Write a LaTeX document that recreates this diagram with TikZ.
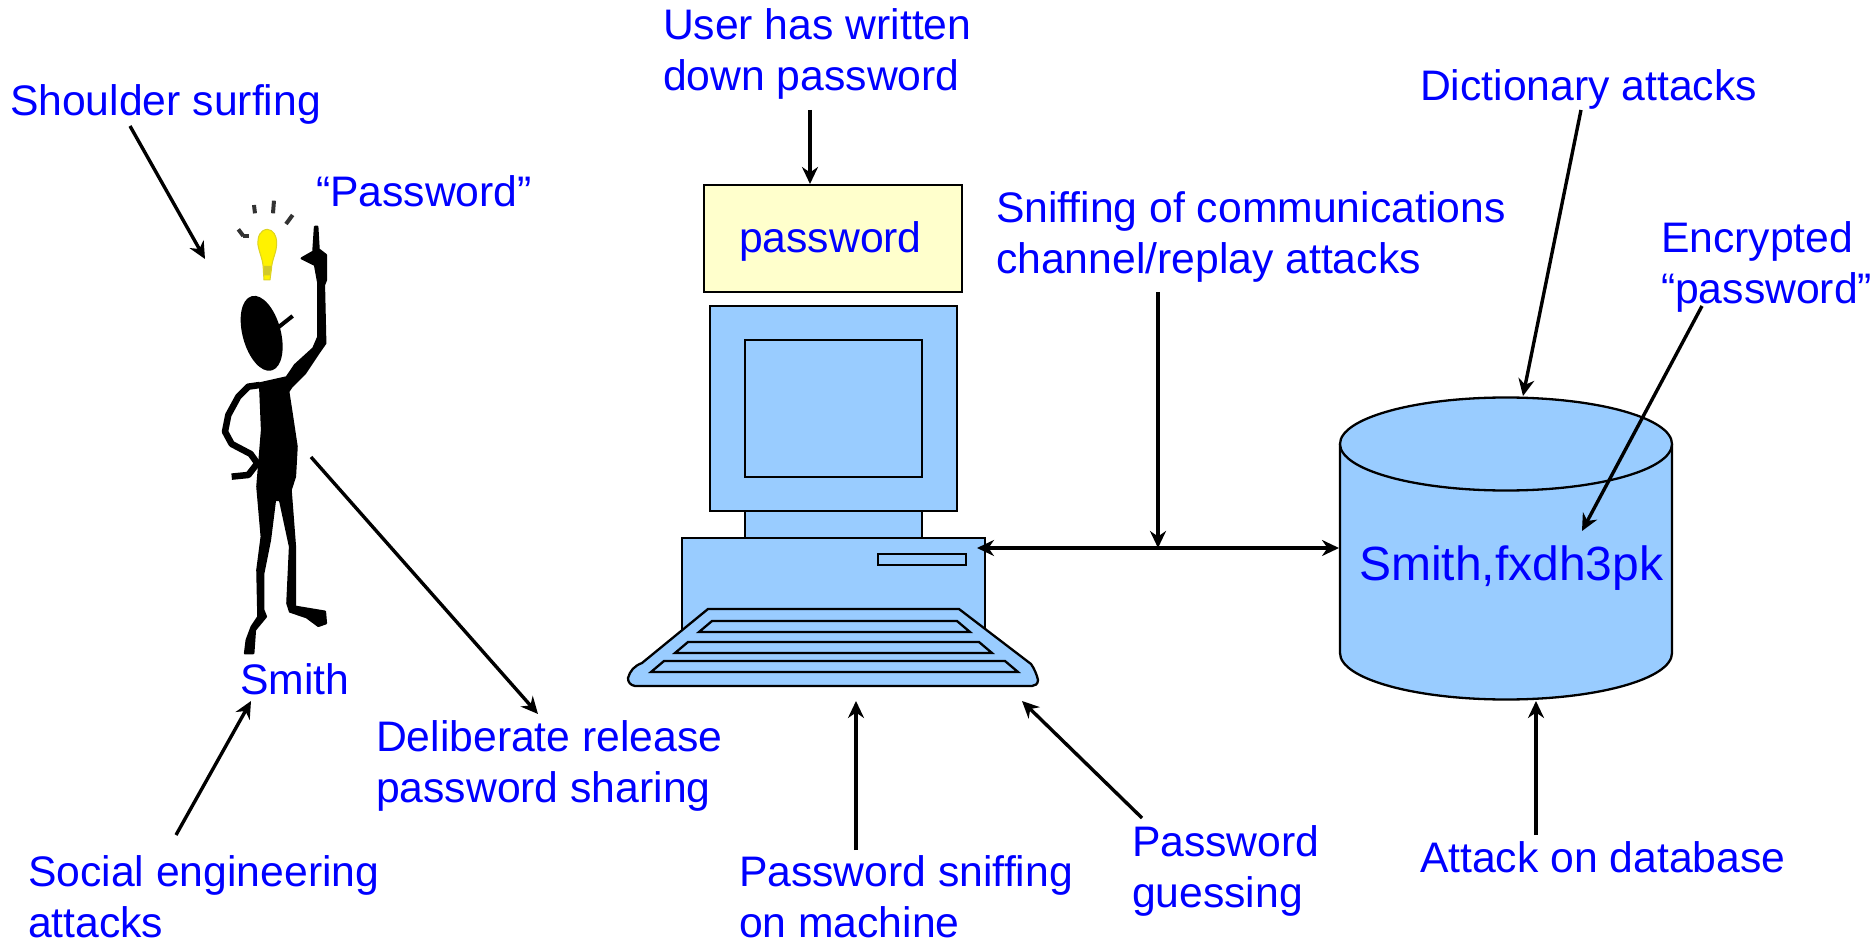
\documentclass[tikz,border=0pt]{standalone}
\usepackage{fontspec}
\setmainfont{Liberation Sans}
\usetikzlibrary{arrows.meta}
\definecolor{pcblue}{HTML}{99CCFF}
\definecolor{txtblue}{HTML}{0000FF}
\definecolor{noteyellow}{HTML}{FFFFCC}
\tikzset{
  lbl/.style={text=txtblue,inner sep=0pt,outer sep=0pt,anchor=north west,align=left,font=\fontsize{42.7}{50.5}\selectfont},
  biglbl/.style={text=txtblue,inner sep=0pt,outer sep=0pt,anchor=base west,font=\fontsize{48}{56}\selectfont},
  arr/.style={draw=black,line width=3.4pt,-{Stealth[length=17pt,width=16pt]}},
  darr/.style={draw=black,line width=3.4pt,{Stealth[length=17pt,width=16pt]}-{Stealth[length=17pt,width=16pt]}},
  pc/.style={draw=black,line width=2.3pt,fill=pcblue,line join=miter,outer sep=0pt,inner sep=0pt},
  fig/.style={fill=black,draw=black,line width=2.2pt,line join=round},
  ray/.style={draw=black!80,line width=4pt}
}
\begin{document}
\begin{tikzpicture}[x=1pt,y=-1pt]
\useasboundingbox (0,0) rectangle (1875,941);
% computer
\node[pc,fill=noteyellow,minimum width=258pt,minimum height=107pt,anchor=north west] (note) at (704,185) {};
\path[pc] (745,505) rectangle (922,545);
\node[pc,minimum width=247pt,minimum height=205pt,anchor=north west] (monitor) at (710,306) {};
\node[pc,minimum width=177pt,minimum height=137pt,anchor=north west] (screen) at (745,340) {};
\node[pc,minimum width=303pt,minimum height=110pt,anchor=north west] (base) at (682,538) {};
\node[pc,minimum width=88pt,minimum height=11pt,anchor=north west] (slot) at (878,554) {};
\path[pc] (708,609) -- (959,609) -- (1031,664) .. controls (1034,668) and (1037,675) .. (1038,680)
  .. controls (1038,684) and (1035,686) .. (1032,686) -- (635,686)
  .. controls (630,685) and (628,682) .. (628,678) .. controls (630,671) and (634,666) .. (642,663) -- cycle;
\path[pc] (712,621) -- (957,621) -- (970,632) -- (699,632) -- cycle;
\path[pc] (688,642) -- (979,642) -- (992,653) -- (675,653) -- cycle;
\path[pc] (664,661) -- (1005,661) -- (1018,672) -- (651,672) -- cycle;
% database
\path[pc] (1340,444) -- (1340,653) arc[start angle=180,end angle=360,x radius=166pt,y radius=46.5pt] -- (1672,444);
\draw[pc] (1506,444) ellipse[x radius=166pt,y radius=46.5pt];
\coordinate (dbtop) at (1523,396);
% figure
\begin{scope}[shift={(180,170)},x=0.3333pt,y=-0.3333pt]
  \path[fig,rotate around={15:(245,490)}] (245,490) ellipse[x radius=54,y radius=112];
  \draw[black,line width=4pt] (295,472) -- (338,438);
  \path[fig] (240,640) -- (320,622) -- (345,585) -- (400,535) -- (415,500) -- (415,340) -- (405,285) -- (365,265) -- (400,245)
    -- (405,170) -- (412,170) -- (416,238) -- (438,255) -- (438,330) -- (432,345) -- (436,520) -- (415,550) -- (375,610) -- (335,650)
    -- (325,665) -- (335,730) -- (350,830) -- (345,920) -- (332,960) -- (345,1130) -- (345,1310) -- (435,1325) -- (438,1360) -- (415,1368)
    -- (380,1342) -- (330,1325) -- (322,1300) -- (330,1130) -- (300,990) -- (285,990) -- (270,1110) -- (250,1210) -- (250,1320) -- (258,1340)
    -- (225,1380) -- (220,1450) -- (195,1450) -- (200,1410) -- (215,1370) -- (235,1340) -- (232,1200) -- (245,1100) -- (232,950) -- (246,780) -- cycle;
  \draw[black,line width=6.5pt,line join=round] (240,645) -- (205,650) -- (175,680) -- (145,735) -- (135,785) -- (155,822) -- (212,852) -- (232,880) -- (205,915) -- (155,920);
  \path[fill=yellow,draw=yellow!85!black,line width=1pt] (262,178) .. controls (240,180) and (232,200) .. (234,225)
     .. controls (238,250) and (250,270) .. (250,300) -- (252,330) -- (270,330) -- (274,300) .. controls (276,265) and (290,250) .. (290,220) .. controls (290,195) and (280,180) .. (262,178) -- cycle;
  \path[fill=yellow!80!black] (252,288) -- (274,288) -- (270,316) -- (252,316) -- cycle;
  \draw[ray] (222,105) -- (225,130);
  \draw[ray] (282,92) -- (279,130);
  \draw[ray] (338,135) -- (318,162);
  \draw[ray] (175,178) -- (190,198);
  \draw[ray] (190,198) -- (208,198);
\end{scope}
% labels
\node[lbl] (shoulder) at (10,85) {Shoulder surfing};
\node[lbl] (written) at (663,9) {User has written\\down password};
\node[lbl] (quoted) at (316,176) {“Password”};
\node[lbl] (dict) at (1420,70) {Dictionary attacks};
\node[lbl] (sniffcomm) at (996,192) {Sniffing of communications\\channel/replay attacks};
\node[lbl] (encrypted) at (1661,222) {Encrypted\\“password”};
\node[lbl] (pwd) at (739,222) {password};
\node[biglbl] (entry) at (1359,580) {Smith,fxdh3pk};
\node[lbl] (smith) at (240,664) {Smith};
\node[lbl] (release) at (376,721) {Deliberate release\\password sharing};
\node[lbl,text depth=0pt] (social) at (28,856) {Social engineering\\attacks};
\node[lbl,text depth=0pt] (sniffm) at (739,856) {Password sniffing\\on machine};
\node[lbl] (guess) at (1132,826) {Password\\guessing};
\node[lbl] (attackdb) at (1420,842) {Attack on database};
% connector ends
\coordinate (a1) at (130,126); \coordinate (a2) at (205,259);
\coordinate (b1) at (810,110); \coordinate (b2) at (810,184);
\coordinate (c1) at (1581,110);
\coordinate (d1) at (1158,292); \coordinate (d2) at (1158,548);
\coordinate (e1) at (977,548); \coordinate (e2) at (1339,548);
\coordinate (f1) at (1702,306); \coordinate (f2) at (1582,531);
\coordinate (g1) at (311,457); \coordinate (g2) at (538,714);
\coordinate (h1) at (176,835); \coordinate (h2) at (251,701);
\coordinate (i1) at (856,850); \coordinate (i2) at (856,701);
\coordinate (j1) at (1142,818); \coordinate (j2) at (1022,701);
\coordinate (k1) at (1536,835); \coordinate (k2) at (1536,701);
\draw[arr] (a1) -- (a2);
\draw[arr] (b1) -- (b2);
\draw[arr] (c1) -- (dbtop);
\draw[arr] (d1) -- (d2);
\draw[darr] (e1) -- (e2);
\draw[arr] (f1) -- (f2);
\draw[arr] (g1) -- (g2);
\draw[arr] (h1) -- (h2);
\draw[arr] (i1) -- (i2);
\draw[arr] (j1) -- (j2);
\draw[arr] (k1) -- (k2);
\end{tikzpicture}
\end{document}
